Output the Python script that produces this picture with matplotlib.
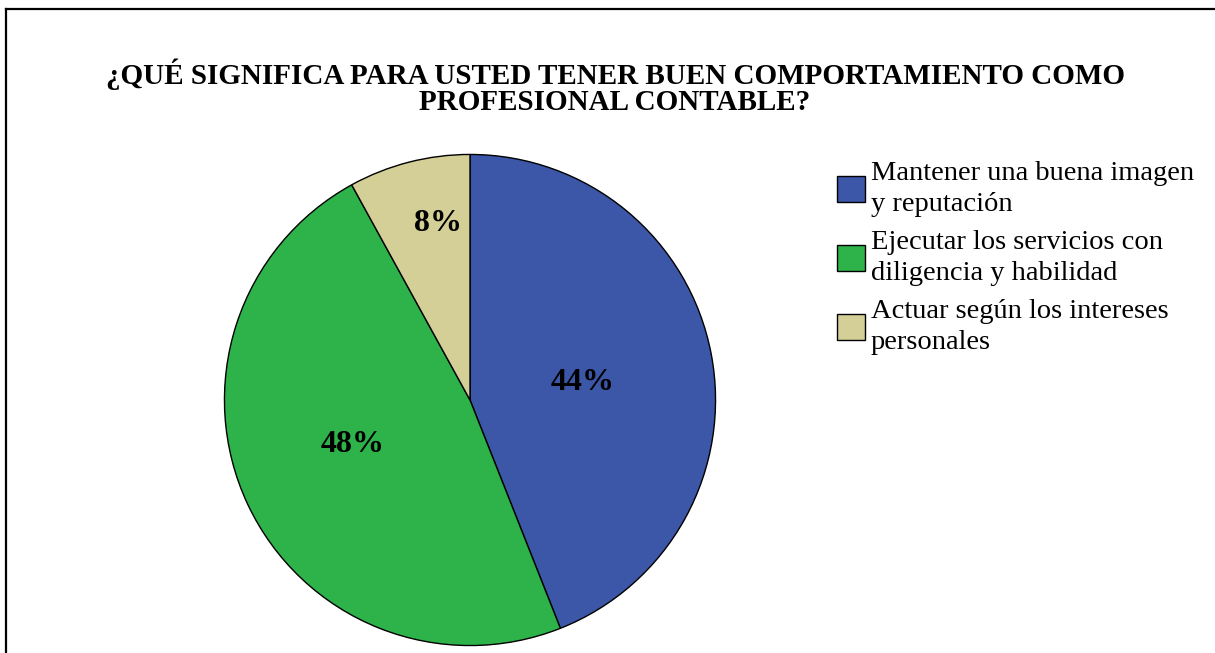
import matplotlib.pyplot as plt
from matplotlib.lines import Line2D

# Datos
categorias = ["Mantener una buena imagen\ny reputación",
              "Ejecutar los servicios con\ndiligencia y habilidad",
              "Actuar según los intereses\npersonales"]
porcentajes = [44, 48, 8]
colores = ["#3c56a8", "#2db34a", "#d4cf96"]
titulo = ["¿QUÉ SIGNIFICA PARA USTED TENER BUEN COMPORTAMIENTO COMO",
          "PROFESIONAL CONTABLE?"]

plt.rcParams['font.family'] = ['Liberation Serif', 'DejaVu Serif']

W, H = 1215, 653
fig = plt.figure(figsize=(W / 100, H / 100), dpi=100)

# Marco (recortado a la derecha y abajo)
fig.add_artist(Line2D([6 / W, 6 / W], [0, 1 - 9 / H], color="black", lw=1.6))
fig.add_artist(Line2D([6 / W, 1], [1 - 9 / H, 1 - 9 / H], color="black", lw=1.6))

for i, linea in enumerate(titulo):
    fig.text(615 / W, 1 - (74 + 29 * i) / H, linea, ha="center", va="center",
             fontsize=21, fontweight="bold")

# Pastel
ax = fig.add_axes([222 / W, 5 / H, 496 / W, 496 / H])
wedges, textos, autotextos = ax.pie(porcentajes, colors=colores, startangle=90,
                                    counterclock=False, radius=1,
                                    autopct="%d%%",
                                    wedgeprops=dict(edgecolor="black", linewidth=1),
                                    textprops=dict(fontsize=23, fontweight="bold"))
ax.set_xlim(-1.01, 1.01)
ax.set_ylim(-1.01, 1.01)
ax.set_aspect("equal")

# Posiciones de las etiquetas (como en el original)
pos_etiquetas = [(0.46, 0.07), (-0.48, -0.18), (-0.13, 0.72)]
for t, p in zip(autotextos, pos_etiquetas):
    t.set_position(p)

leg = fig.legend(wedges, categorias, loc="upper left",
                 bbox_to_anchor=(837 / W, 1 - 161 / H), bbox_transform=fig.transFigure,
                 frameon=False, fontsize=20.5, borderpad=0, borderaxespad=0,
                 handlelength=0.98, handleheight=1.05, handletextpad=0.2,
                 labelspacing=0.45)
for t in leg.get_texts():
    t.set_linespacing(1.33)

fig.savefig("out.png", dpi=100)
